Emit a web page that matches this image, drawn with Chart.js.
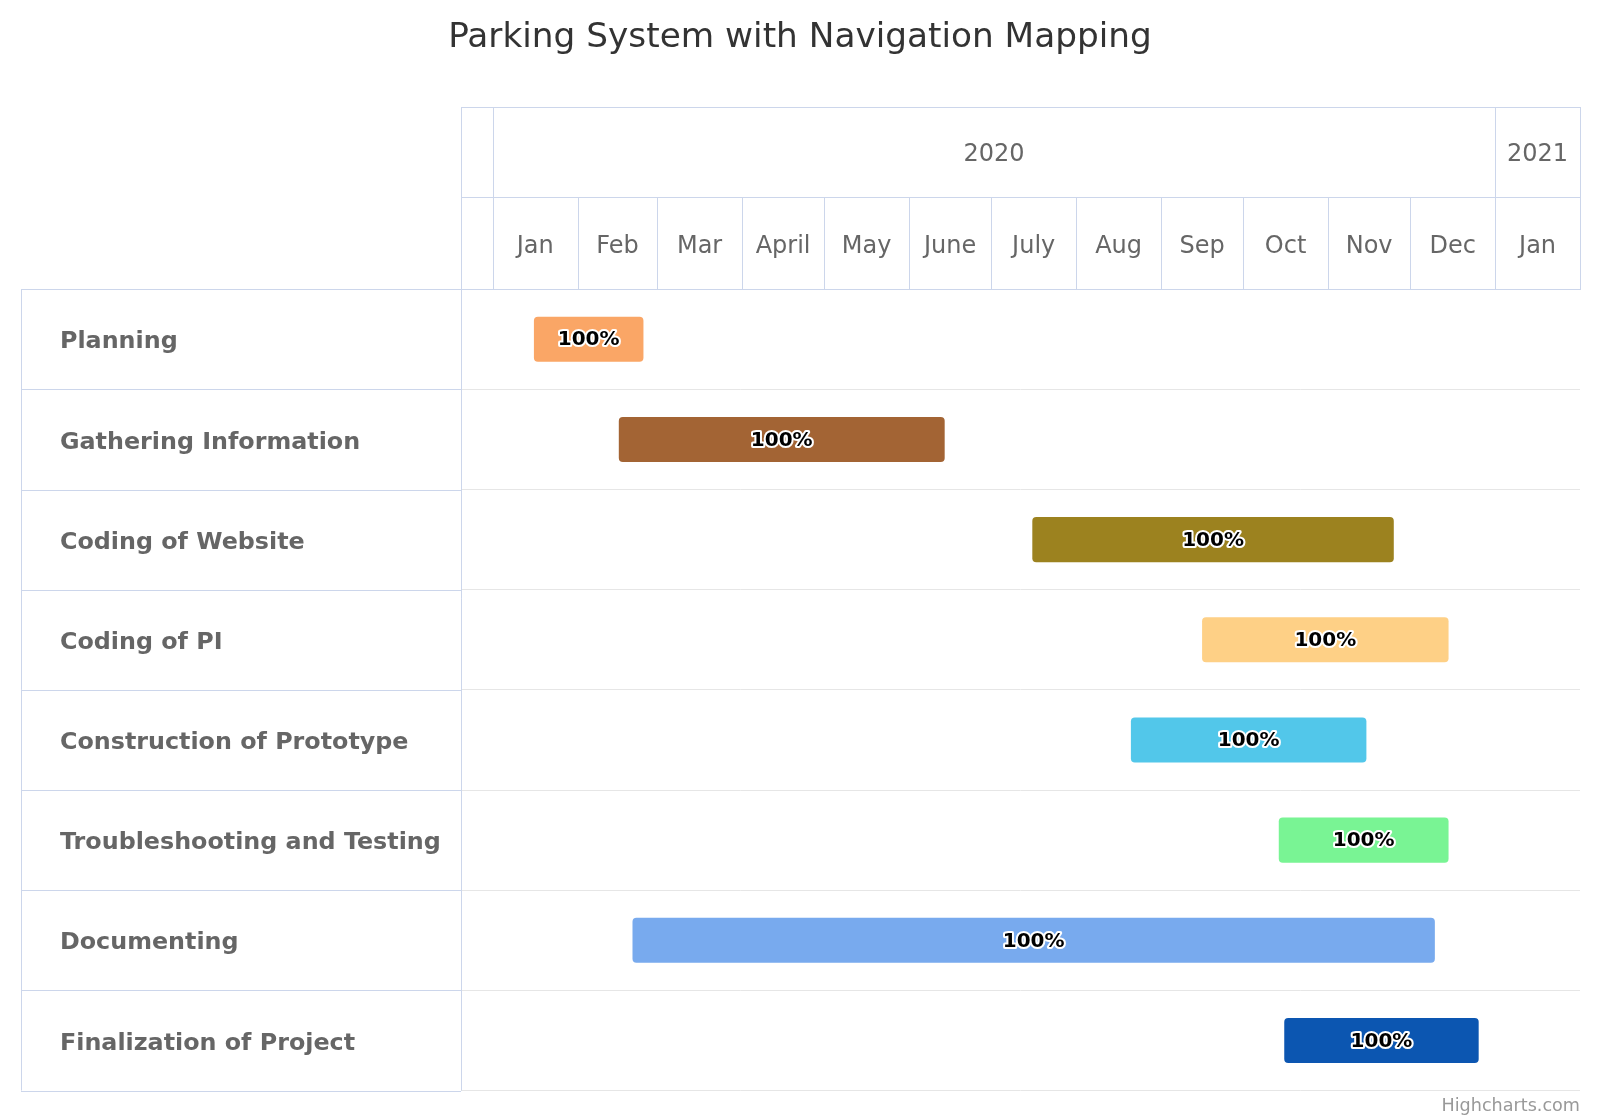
<!DOCTYPE html>
<html>
<head>
<meta charset="utf-8">
<script src="https://cdn.jsdelivr.net/npm/chart.js@4/dist/chart.umd.min.js"></script>
<style>
html, body { margin: 0; padding: 0; background: #ffffff; }
#wrap { width: 1600px; height: 1120px; }
</style>
</head>
<body>
<div id="wrap"><canvas id="c" width="1600" height="1120"></canvas></div>
<script>
// ---------- data ----------
const chartTitle = 'Parking System with Navigation Mapping';
const creditText = 'Highcharts.com';

const taskNames = [
  'Planning',
  'Gathering Information',
  'Coding of Website',
  'Coding of PI',
  'Construction of Prototype',
  'Troubleshooting and Testing',
  'Documenting',
  'Finalization of Project'
];
const startDates = ['2020-01-16', '2020-02-16', '2020-07-16', '2020-09-16', '2020-08-21', '2020-10-14', '2020-02-21', '2020-10-16'];
const endDates   = ['2020-02-25', '2020-06-14', '2020-11-25', '2020-12-15', '2020-11-15', '2020-12-15', '2020-12-10', '2020-12-26'];
const completedPct = [100, 100, 100, 100, 100, 100, 100, 100];
const barColors = ['#faa666', '#a36434', '#9c821f', '#fed086', '#52c7ea', '#79f494', '#78aaee', '#0c56b1'];

const monthLabels = ['Jan', 'Feb', 'Mar', 'April', 'May', 'June', 'July', 'Aug', 'Sep', 'Oct', 'Nov', 'Dec', 'Jan'];
const monthBounds = ['2020-01-01', '2020-02-01', '2020-03-01', '2020-04-01', '2020-05-01', '2020-06-01', '2020-07-01',
                     '2020-08-01', '2020-09-01', '2020-10-01', '2020-11-01', '2020-12-01', '2021-01-01', '2021-02-01'];
const yearLabels = ['2020', '2021'];
const yearBounds = ['2020-01-01', '2021-01-01', '2022-01-01'];
const axisStart = '2019-12-20T09:00:00Z';
const axisEnd = '2021-02-01';

// ---------- helpers ----------
const EPOCH = Date.parse('2020-01-01T00:00:00Z');
function toDay(s) {
  const t = Date.parse(s.length === 10 ? s + 'T00:00:00Z' : s);
  return (t - EPOCH) / 86400000;
}
const xMin = toDay(axisStart);
const xMax = toDay(axisEnd);

const monthTickValues = monthLabels.map((_, i) => (toDay(monthBounds[i]) + toDay(monthBounds[i + 1])) / 2);
const yearTickValues = yearLabels.map((_, i) => {
  const a = Math.max(xMin, toDay(yearBounds[i]));
  const b = Math.min(xMax, toDay(yearBounds[i + 1]));
  return (a + b) / 2;
});

const FRAME = '#ccd6eb';
const FONT = "'DejaVu Sans', Verdana, sans-serif";

// ---------- plugins ----------
const crisp = v => Math.round(v) + 0.5;

const ganttFrame = {
  id: 'ganttFrame',
  afterDraw(chart) {
    const ctx = chart.ctx;
    const a = chart.chartArea;
    const mx = chart.scales.x, yx = chart.scales.x2, ys = chart.scales.y;
    const tableLeft = 21;
    ctx.save();
    ctx.strokeStyle = FRAME;
    ctx.lineWidth = 1;
    const h = (x1, x2, y) => { ctx.beginPath(); ctx.moveTo(x1, crisp(y)); ctx.lineTo(x2, crisp(y)); ctx.stroke(); };
    const v = (x, y1, y2) => { ctx.beginPath(); ctx.moveTo(crisp(x), y1); ctx.lineTo(crisp(x), y2); ctx.stroke(); };
    const L = a.left, R = a.right;
    // header box
    h(L, R + 1, yx.top);
    h(L, R + 1, mx.top);
    h(tableLeft, R + 1, a.top);
    v(L, yx.top, a.bottom);
    v(R, yx.top, a.top);
    // year separators
    yearBounds.forEach(d => {
      const t = toDay(d);
      if (t > xMin && t < xMax) v(mx.getPixelForValue(t), yx.top, yx.bottom);
    });
    // month separators
    monthBounds.forEach(d => {
      const t = toDay(d);
      if (t > xMin && t < xMax) v(mx.getPixelForValue(t), mx.top, mx.bottom);
    });
    // left table
    v(tableLeft, a.top, a.bottom);
    const n = taskNames.length;
    const rowH = n > 1 ? ys.getPixelForValue(1) - ys.getPixelForValue(0) : (a.bottom - a.top);
    for (let i = 0; i <= n; i++) {
      const y = ys.getPixelForValue(0) - rowH / 2 + i * rowH;
      h(tableLeft, L, y);
    }
    ctx.restore();
  }
};

const barLabels = {
  id: 'barLabels',
  afterDatasetsDraw(chart) {
    const ctx = chart.ctx;
    const meta = chart.getDatasetMeta(0);
    ctx.save();
    ctx.font = "bold 20px " + FONT;
    ctx.textAlign = 'center';
    ctx.textBaseline = 'middle';
    ctx.lineJoin = 'round';
    meta.data.forEach((el, i) => {
      const p = el.getProps(['x', 'y', 'base'], true);
      const cx = (p.x + p.base) / 2;
      const txt = completedPct[i] + '%';
      ctx.strokeStyle = '#ffffff';
      ctx.lineWidth = 4;
      ctx.strokeText(txt, cx, p.y + 1);
      ctx.fillStyle = '#000000';
      ctx.fillText(txt, cx, p.y + 1);
    });
    ctx.restore();
  }
};

// ---------- chart ----------
const barData = taskNames.map((_, i) => [toDay(startDates[i]), toDay(endDates[i])]);

new Chart(document.getElementById('c'), {
  type: 'bar',
  data: {
    labels: taskNames,
    datasets: [{
      data: barData,
      backgroundColor: barColors,
      borderWidth: 0,
      borderRadius: 4,
      borderSkipped: false,
      categoryPercentage: 1,
      barPercentage: 0.45,
      xAxisID: 'x',
      yAxisID: 'y'
    }]
  },
  options: {
    indexAxis: 'y',
    responsive: false,
    animation: false,
    layout: { padding: { left: 20, right: 20, top: 0, bottom: 0 } },
    plugins: {
      legend: { display: false },
      tooltip: { enabled: false },
      title: {
        display: true,
        text: chartTitle,
        color: '#333333',
        font: { family: FONT, size: 34.3, weight: 'normal' },
        padding: { top: 18, bottom: 48 }
      },
      subtitle: {
        display: true,
        position: 'bottom',
        align: 'end',
        text: creditText,
        color: '#999999',
        font: { family: FONT, size: 17.6, weight: 'normal' },
        padding: { top: 5, bottom: 3.3 }
      }
    },
    scales: {
      x: {
        type: 'linear',
        position: 'top',
        weight: 0,
        min: xMin,
        max: xMax,
        grid: { display: false, drawTicks: false },
        border: { display: false },
        afterBuildTicks: s => { s.ticks = monthTickValues.map(v => ({ value: v })); },
        afterFit: s => { s.height = 92; },
        ticks: {
          autoSkip: false,
          maxRotation: 0,
          minRotation: 0,
          padding: 28,
          color: '#666666',
          font: { family: FONT, size: 24 },
          callback: (val, idx) => monthLabels[idx]
        }
      },
      x2: {
        type: 'linear',
        position: 'top',
        weight: 1,
        display: true,
        min: xMin,
        max: xMax,
        grid: { display: false, drawTicks: false },
        border: { display: false },
        afterBuildTicks: s => { s.ticks = yearTickValues.map(v => ({ value: v })); },
        afterFit: s => { s.height = 90; },
        ticks: {
          autoSkip: false,
          maxRotation: 0,
          minRotation: 0,
          padding: 28,
          color: '#666666',
          font: { family: FONT, size: 24 },
          callback: (val, idx) => yearLabels[idx]
        }
      },
      y: {
        type: 'category',
        position: 'left',
        weight: 0,
        grid: { color: '#e6e6e6', drawTicks: false, offset: true },
        border: { display: false },
        afterFit: s => { s.width = 401; },
        ticks: {
          autoSkip: false,
          crossAlign: 'far',
          labelOffset: 3,
          color: '#666666',
          font: { family: FONT, size: 23.8, weight: 'bold' }
        }
      },
      ySpacer: {
        type: 'category',
        position: 'left',
        weight: 1,
        display: true,
        grid: { display: false, drawTicks: false },
        border: { display: false },
        ticks: { display: false },
        afterFit: s => { s.width = 40; }
      }
    }
  },
  plugins: [ganttFrame, barLabels]
});
</script>
</body>
</html>
